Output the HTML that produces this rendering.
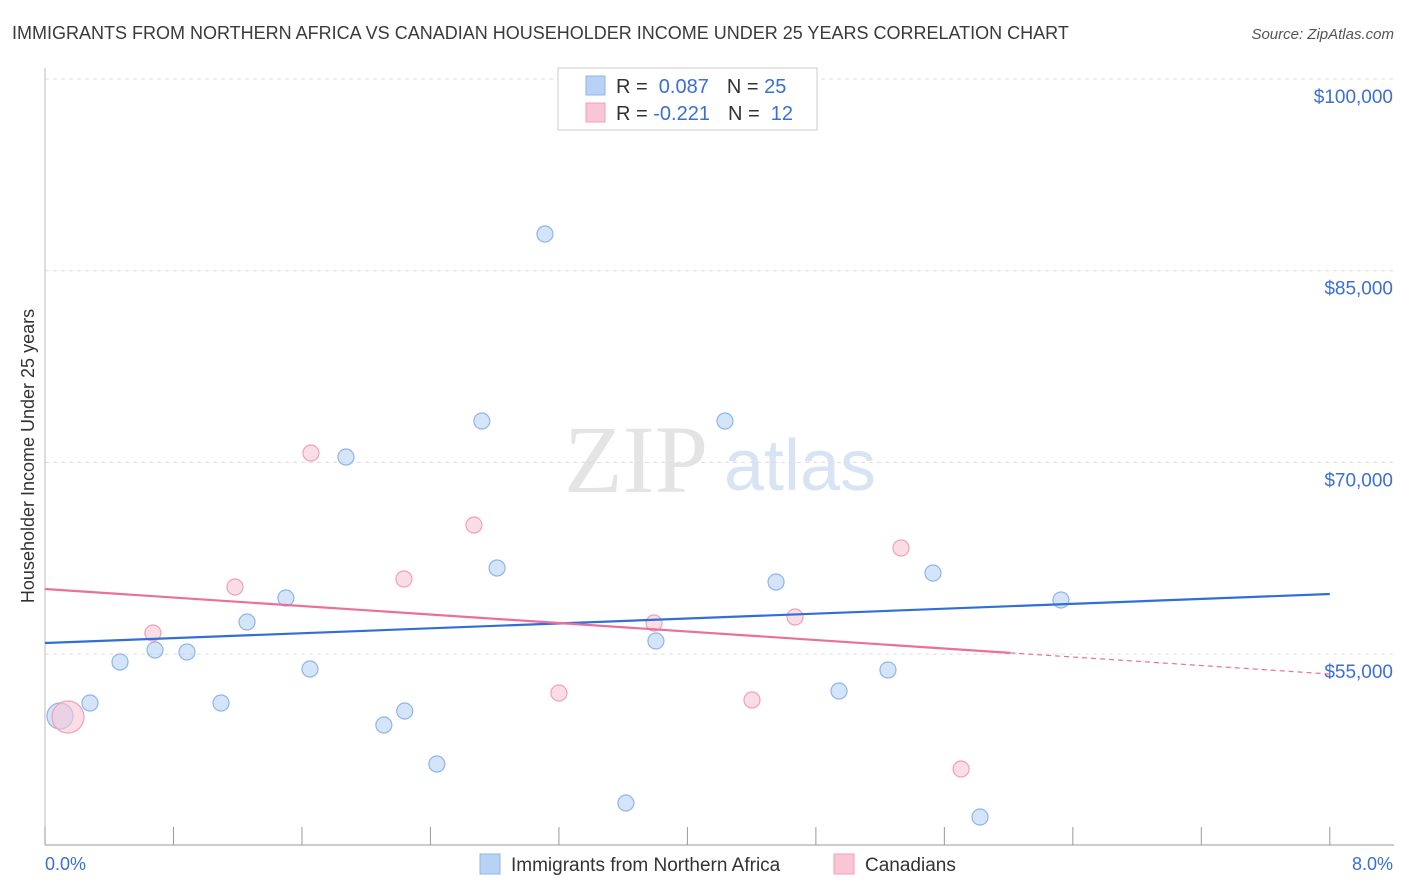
<!DOCTYPE html>
<html><head><meta charset="utf-8"><style>
body{margin:0;background:#fff;font-family:"Liberation Sans",sans-serif}
</style></head><body>
<svg id="c" width="1406" height="892" style="display:block">
<text x="12" y="39" font-size="18" fill="#3a3a3a">IMMIGRANTS FROM NORTHERN AFRICA VS CANADIAN HOUSEHOLDER INCOME UNDER 25 YEARS CORRELATION CHART</text>
<text x="1394" y="39" font-size="15" fill="#555" font-style="italic" text-anchor="end">Source: ZipAtlas.com</text>
<text x="636" y="492" font-size="96" fill="#e4e4e4" font-family="Liberation Serif,serif" text-anchor="middle">ZIP</text>
<text x="800" y="490" font-size="72" fill="#d8e4f4" text-anchor="middle">atlas</text>
<text transform="translate(34,456) rotate(-90)" font-size="18" fill="#333" text-anchor="middle">Householder Income Under 25 years</text>
<g id="grid"></g><g id="marks"></g>
<g>
<rect x="558" y="68" width="259" height="62" fill="#fff" stroke="#ccc"/>
<rect x="586" y="76" width="19" height="19" fill="#b8d2f5" stroke="#8fb5e8"/>
<rect x="586" y="103" width="19" height="19" fill="#f9c6d5" stroke="#f0a0b8"/>
<text x="616" y="93" font-size="20" fill="#333">R = <tspan fill="#3b6fd4">&#160;0.087</tspan><tspan dx="18">N = </tspan><tspan fill="#3b6fd4">25</tspan></text>
<text x="616" y="120" font-size="20" fill="#333">R = <tspan fill="#3b6fd4">-0.221</tspan><tspan dx="18">N = </tspan><tspan fill="#3b6fd4">&#160;12</tspan></text>
</g>
<g>
<rect x="480" y="854" width="20" height="20" fill="#b8d2f5" stroke="#8fb5e8"/>
<text x="511" y="871" font-size="19" fill="#333">Immigrants from Northern Africa</text>
<rect x="834" y="854" width="20" height="20" fill="#f9c6d5" stroke="#f0a0b8"/>
<text x="865" y="871" font-size="19" fill="#333">Canadians</text>
</g>
<text x="45" y="870" font-size="18" fill="#3b6fd4">0.0%</text>
<text x="1393" y="870" font-size="18" fill="#3b6fd4" text-anchor="end">8.0%</text>
</svg>
<script>
const yTicks=[100000,85000,70000,55000];
const yTickLabels=["$100,000","$85,000","$70,000","$55,000"];
const xTicks=[0,0.8,1.6,2.4,3.2,4,4.8,5.6,6.4,7.2,8];
const blueX=[0.093,0.28,0.467,0.685,0.884,1.096,1.258,1.5,1.65,1.874,2.11,2.24,2.44,2.72,2.815,3.113,3.617,3.804,4.234,4.552,4.944,5.249,5.529,5.822,6.326];
const blueY=[50155,51172,54380,55319,55163,51172,57510,59388,53832,70421,49450,50546,46399,73238,61736,87871,43347,56023,73238,60640,52111,53754,61344,42251,59232];
const pinkX=[0.143,0.672,1.183,1.656,2.235,2.671,3.2,3.792,4.402,4.67,5.33,5.704];
const pinkY=[50077,56649,60249,70734,60875,65100,51954,57432,51407,57901,63301,46007];
const blueTrend=[55867,59701];
const pinkTrend=[60092,53441];
const pinkSolidEnd=6.01;
const X=v=>45+v*160.6, Y=v=>79+(100000-v)*191.7/15000;
const NS="http://www.w3.org/2000/svg";
function mk(p,t,a){const e=document.createElementNS(NS,t);for(const k in a)e.setAttribute(k,a[k]);p.appendChild(e);return e;}
const g=document.getElementById('grid'),m=document.getElementById('marks');
yTicks.forEach((t,i)=>{
 const l=mk(g,'line',{x1:45,x2:1394,y1:Y(t),y2:Y(t),stroke:'#ddd','stroke-dasharray':'4,4'});
 
 
 const tx=mk(g,'text',{x:1393,y:Y(t)+24,'font-size':19,fill:'#3b6fd4','text-anchor':'end'});
 tx.textContent=yTickLabels[i];
 
 
});
const ax=mk(g,'line',{x1:45,x2:1394,y1:845,y2:845,stroke:'#999'});


const ay=mk(g,'line',{x1:45,x2:45,y1:68,y2:845,stroke:'#bbb'});


xTicks.forEach(t=>{const l=mk(g,'line',{x1:X(t),x2:X(t),y1:827,y2:845,stroke:'#999'});
 
 });
blueX.forEach((x,i)=>{const c=mk(m,'circle',{cx:X(x),cy:Y(blueY[i]),r:i==0?13:8,fill:'rgba(184,210,245,0.6)',stroke:'#8fb5e8','stroke-width':1.2});
 
 });
pinkX.forEach((x,i)=>{const c=mk(m,'circle',{cx:X(x),cy:Y(pinkY[i]),r:i==0?16:8,fill:'rgba(249,198,213,0.6)',stroke:'#f0a0b8','stroke-width':1.2});
 
 });
const bt=mk(m,'line',{x1:X(0),x2:X(8),y1:Y(blueTrend[0]),y2:Y(blueTrend[1]),stroke:'#2f6fd6','stroke-width':2.2});


const py=x=>pinkTrend[0]+(pinkTrend[1]-pinkTrend[0])*x/8;
const pt=mk(m,'line',{x1:X(0),x2:X(pinkSolidEnd),y1:Y(py(0)),y2:Y(py(pinkSolidEnd)),stroke:'#e8709a','stroke-width':2.2});


const pd=mk(m,'line',{x1:X(pinkSolidEnd),x2:X(8),y1:Y(py(pinkSolidEnd)),y2:Y(py(8)),stroke:'#e8709a','stroke-width':1.2,'stroke-dasharray':'5,4'});


</script>
</body></html>
